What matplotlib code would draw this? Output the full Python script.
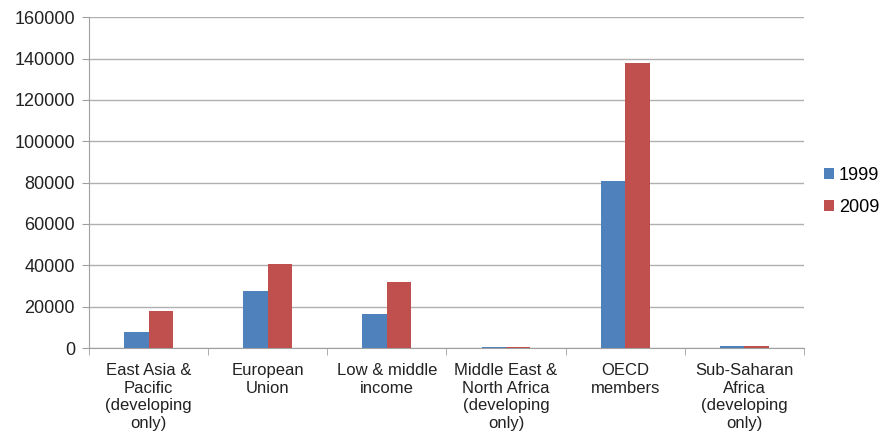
import matplotlib
matplotlib.use("Agg")
import matplotlib.pyplot as plt
import numpy as np

categories = ["East Asia &\nPacific\n(developing\nonly)", "European\nUnion", "Low & middle\nincome",
              "Middle East &\nNorth Africa\n(developing\nonly)", "OECD\nmembers", "Sub-Saharan\nAfrica\n(developing\nonly)"]
series_names = ["1999", "2009"]
values_1999 = [7700, 27500, 16400, 550, 80700, 900]
values_2009 = [17900, 40600, 32000, 500, 138000, 850]
colors = ["#4F81BD", "#C0504D"]

plt.rcParams['font.family'] = ['Liberation Sans', 'DejaVu Sans']
fig = plt.figure(figsize=(8.87, 4.4), dpi=100)
ax = fig.add_axes([0.1003, 0.209, 0.806, 0.752])

x = np.arange(len(categories))
w = 0.205
ax.bar(x - w/2, values_1999, w, color=colors[0], label=series_names[0], zorder=3)
ax.bar(x + w/2, values_2009, w, color=colors[1], label=series_names[1], zorder=3)

ax.set_xlim(-0.5, len(categories) - 0.5)
ax.set_ylim(0, 160000)
ax.set_yticks(np.arange(0, 160001, 20000))
ax.yaxis.grid(True, color="#B0B0B0", linewidth=1, zorder=0)
ax.set_axisbelow(True)
for s in ["top", "right"]:
    ax.spines[s].set_visible(False)
for s in ["left", "bottom"]:
    ax.spines[s].set_color("#A0A0A0")
ax.set_xticks(x)
ax.set_xticklabels(categories, fontsize=12, color="#222222", linespacing=1.2)
ax.tick_params(axis="x", length=0, pad=11)
ax.set_xticks(np.arange(-0.5, len(categories), 1), minor=True)
ax.tick_params(axis="x", which="minor", length=5, color="#A0A0A0")
ax.tick_params(axis="y", length=5, color="#A0A0A0", labelsize=13, labelcolor="#222222", pad=5)

ax.legend(loc="center left", bbox_to_anchor=(1.005, 0.474), frameon=False, fontsize=13,
          handlelength=0.55, handleheight=0.55, handletextpad=0.3, labelspacing=0.85)

fig.savefig("out.png", dpi=100)
